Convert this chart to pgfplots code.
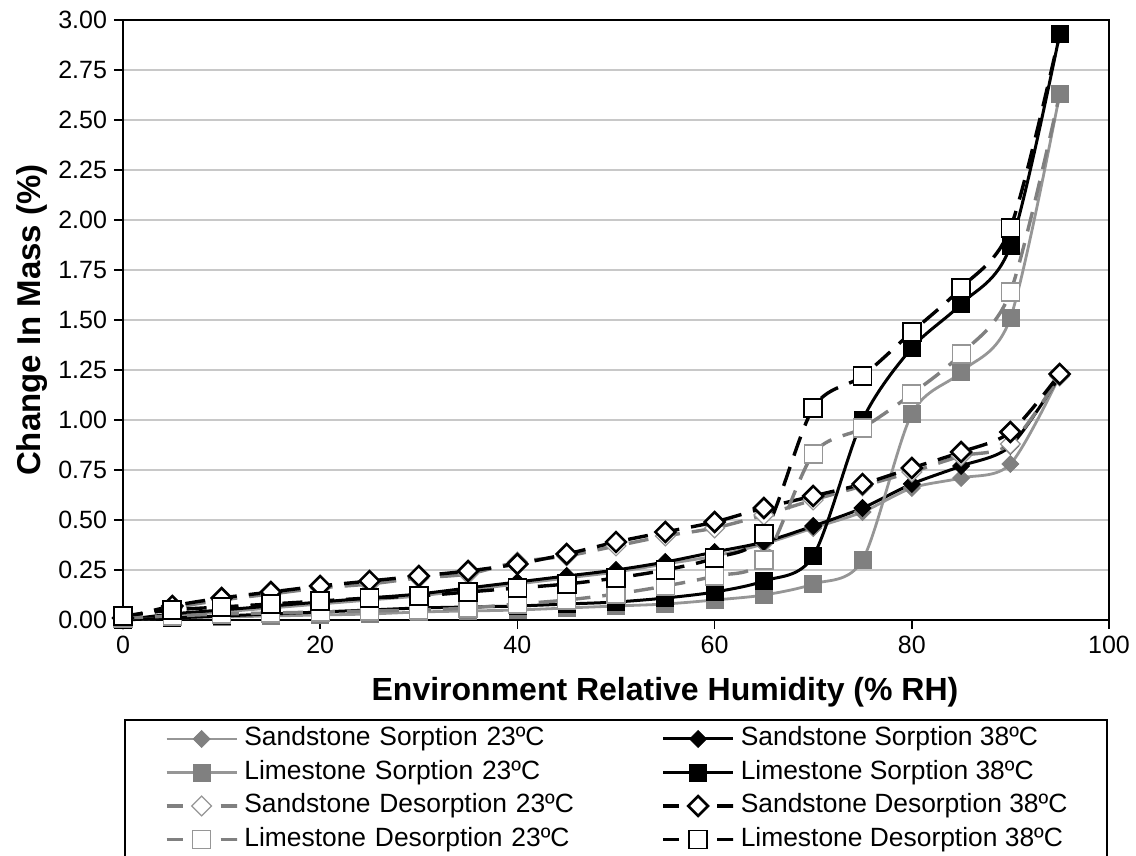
\documentclass[border=0pt]{standalone}
\usepackage{pgfplots}
\usepackage{pgfplotstable}
\pgfplotsset{compat=1.18}
\usepackage{fontspec}
\setmainfont{Liberation Sans}
\definecolor{grline}{RGB}{150,150,150}
\definecolor{grmark}{RGB}{128,128,128}
\definecolor{gridc}{RGB}{200,200,200}

\pgfplotstableread{
x  SS23 SS38 LS23  LS38  SD23  SD38  LD23  LD38
0  0.00 0.00 0.00  0.00  0.01  0.01  0.01  0.02
5  0.02 0.03 0.01  0.01  0.06  0.07  0.02  0.05
10 0.04 0.05 0.015 0.02  0.10  0.11  0.03  0.065
15 0.06 0.07 0.02  0.03  0.13  0.14  0.035 0.08
20 0.08 0.09 0.025 0.04  0.16  0.17  0.04  0.095
25 0.10 0.11 0.03  0.05  0.18  0.195 0.045 0.11
30 0.12 0.13 0.04  0.06  0.21  0.22  0.05  0.12
35 0.15 0.16 0.045 0.065 0.23  0.245 0.06  0.14
40 0.18 0.19 0.05  0.07  0.29  0.28  0.08  0.16
45 0.21 0.22 0.06  0.08  0.32  0.33  0.10  0.18
50 0.24 0.25 0.07  0.09  0.37  0.39  0.13  0.21
55 0.28 0.29 0.08  0.11  0.42  0.44  0.17  0.25
60 0.32 0.34 0.10  0.14  0.46  0.49  0.22  0.31
65 0.38 0.39 0.125 0.195 0.525 0.56  0.30  0.43
70 0.46 0.47 0.18  0.32  0.60  0.62  0.83  1.06
75 0.54 0.56 0.30  1.00  0.67  0.68  0.96  1.22
80 0.66 0.68 1.03  1.36  0.74  0.76  1.13  1.44
85 0.71 0.77 1.24  1.58  0.82  0.84  1.33  1.66
90 0.78 0.87 1.51  1.87  0.88  0.94  1.64  1.96
95 1.22 1.22 2.63  2.93  1.22  1.23  2.63  2.93
}\data

\pgfplotsset{
  solidleg/.style={legend image code/.code={%
    \draw[##1,mark indices={2}] plot coordinates {(0pt,0pt) (17.5pt,0pt) (35pt,0pt)};}},
  dashleg/.style={legend image code/.code={%
    \draw[##1,mark indices={2},dash pattern=on 8pt off 19pt on 8pt off 0pt] plot coordinates {(0pt,0pt) (17.5pt,0pt) (35pt,0pt)};}},
}

\begin{document}
\begin{tikzpicture}
\useasboundingbox (-61.5pt,-118pt) rectangle (506.5pt,310pt);
\begin{axis}[
  at={(0pt,0pt)}, anchor=south west,
  scale only axis, width=493pt, height=300pt,
  xmin=0, xmax=100, ymin=0, ymax=3,
  clip=false,
  xtick={0,20,40,60,80,100},
  ytick={0,0.25,0.5,0.75,1,1.25,1.5,1.75,2,2.25,2.5,2.75,3},
  ymajorgrids,
  major grid style={gridc, line width=0.7pt},
  axis line style={black, line width=1.2pt},
  tick align=outside,
  xtick pos=left, ytick pos=left,
  major tick length=4.5pt,
  tick style={black, line width=0.8pt},
  /pgf/number format/assume math mode=true,
  tick label style={font=\fontsize{12.5}{15}\selectfont},
  yticklabel style={/pgf/number format/fixed, /pgf/number format/fixed zerofill, /pgf/number format/precision=2},
  xlabel={Environment Relative Humidity (\% RH)},
  ylabel={Change In Mass (\%)},
  every axis x label/.style={at={(axis description cs:0.5497,-0.12)}, anchor=center, font=\bfseries\fontsize{16}{19}\selectfont},
  every axis y label/.style={at={(axis description cs:-0.0923,0.5)}, rotate=90, anchor=center, font=\bfseries\fontsize{16.5}{19}\selectfont},
  legend columns=2,
  legend cell align=left,
  legend style={at={(axis description cs:0.001,-0.165)}, anchor=north west,
    draw=black, line width=1pt, inner xsep=20pt, inner ysep=3.5pt,
    font=\fontsize{13.2}{15}\selectfont, row sep=4.75pt,
    nodes={inner sep=0pt, text height=9.3pt, text depth=2.7pt},
    /tikz/every odd column/.append style={column sep=3pt},
    /tikz/column 2/.style={nodes={text width=208.5pt}}},
]
% Sandstone Sorption 23
\addplot[solidleg, color=grline, line width=1.4pt, smooth, mark=square*,
  mark size=3pt, mark options={solid, rotate=45, fill=grmark, draw=grmark, line width=0.4pt}]
  table[x=x, y=SS23]{\data};
\addlegendentry{Sandstone Sorption 23ºC}
% Sandstone Sorption 38
\addplot[solidleg, color=black, line width=1.5pt, smooth, mark=square*,
  mark size=3pt, mark options={solid, rotate=45, fill=black, draw=black, line width=0.4pt}]
  table[x=x, y=SS38]{\data};
\addlegendentry{Sandstone Sorption 38ºC}
% Limestone Sorption 23
\addplot[solidleg, color=grline, line width=1.4pt, smooth, mark=square*,
  mark size=4.25pt, mark options={solid, fill=grmark, draw=grmark, line width=0.4pt}]
  table[x=x, y=LS23]{\data};
\addlegendentry{Limestone Sorption 23ºC}
% Limestone Sorption 38
\addplot[solidleg, color=black, line width=1.5pt, smooth, mark=square*,
  mark size=4.25pt, mark options={solid, fill=black, draw=black, line width=0.4pt}]
  table[x=x, y=LS38]{\data};
\addlegendentry{Limestone Sorption 38ºC}
% Sandstone Desorption 23
\addplot[dashleg, color=grmark, line width=1.7pt, dash pattern=on 10pt off 6pt, smooth, mark=square*,
  mark size=3.5pt, mark options={solid, rotate=45, fill=white, draw=grline, line width=0.6pt}]
  table[x=x, y=SD23]{\data};
\addlegendentry{Sandstone Desorption 23ºC}
% Sandstone Desorption 38
\addplot[dashleg, color=black, line width=1.7pt, dash pattern=on 10pt off 6pt, smooth, mark=square*,
  mark size=3.5pt, mark options={solid, rotate=45, fill=white, draw=black, line width=1.3pt}]
  table[x=x, y=SD38]{\data};
\addlegendentry{Sandstone Desorption 38ºC}
% Limestone Desorption 23
\addplot[dashleg, color=grmark, line width=1.7pt, dash pattern=on 10pt off 6pt, smooth, mark=square*,
  mark indices={1,...,19},
  mark size=4.5pt, mark options={solid, fill=white, draw=grline, line width=0.6pt}]
  table[x=x, y=LD23]{\data};
\addlegendentry{Limestone Desorption 23ºC}
% Limestone Desorption 38
\addplot[dashleg, color=black, line width=1.7pt, dash pattern=on 10pt off 6pt, smooth, mark=square*,
  mark indices={1,...,19},
  mark size=4.5pt, mark options={solid, fill=white, draw=black, line width=0.8pt}]
  table[x=x, y=LD38]{\data};
\addlegendentry{Limestone Desorption 38ºC}
\end{axis}
\end{tikzpicture}
\end{document}
